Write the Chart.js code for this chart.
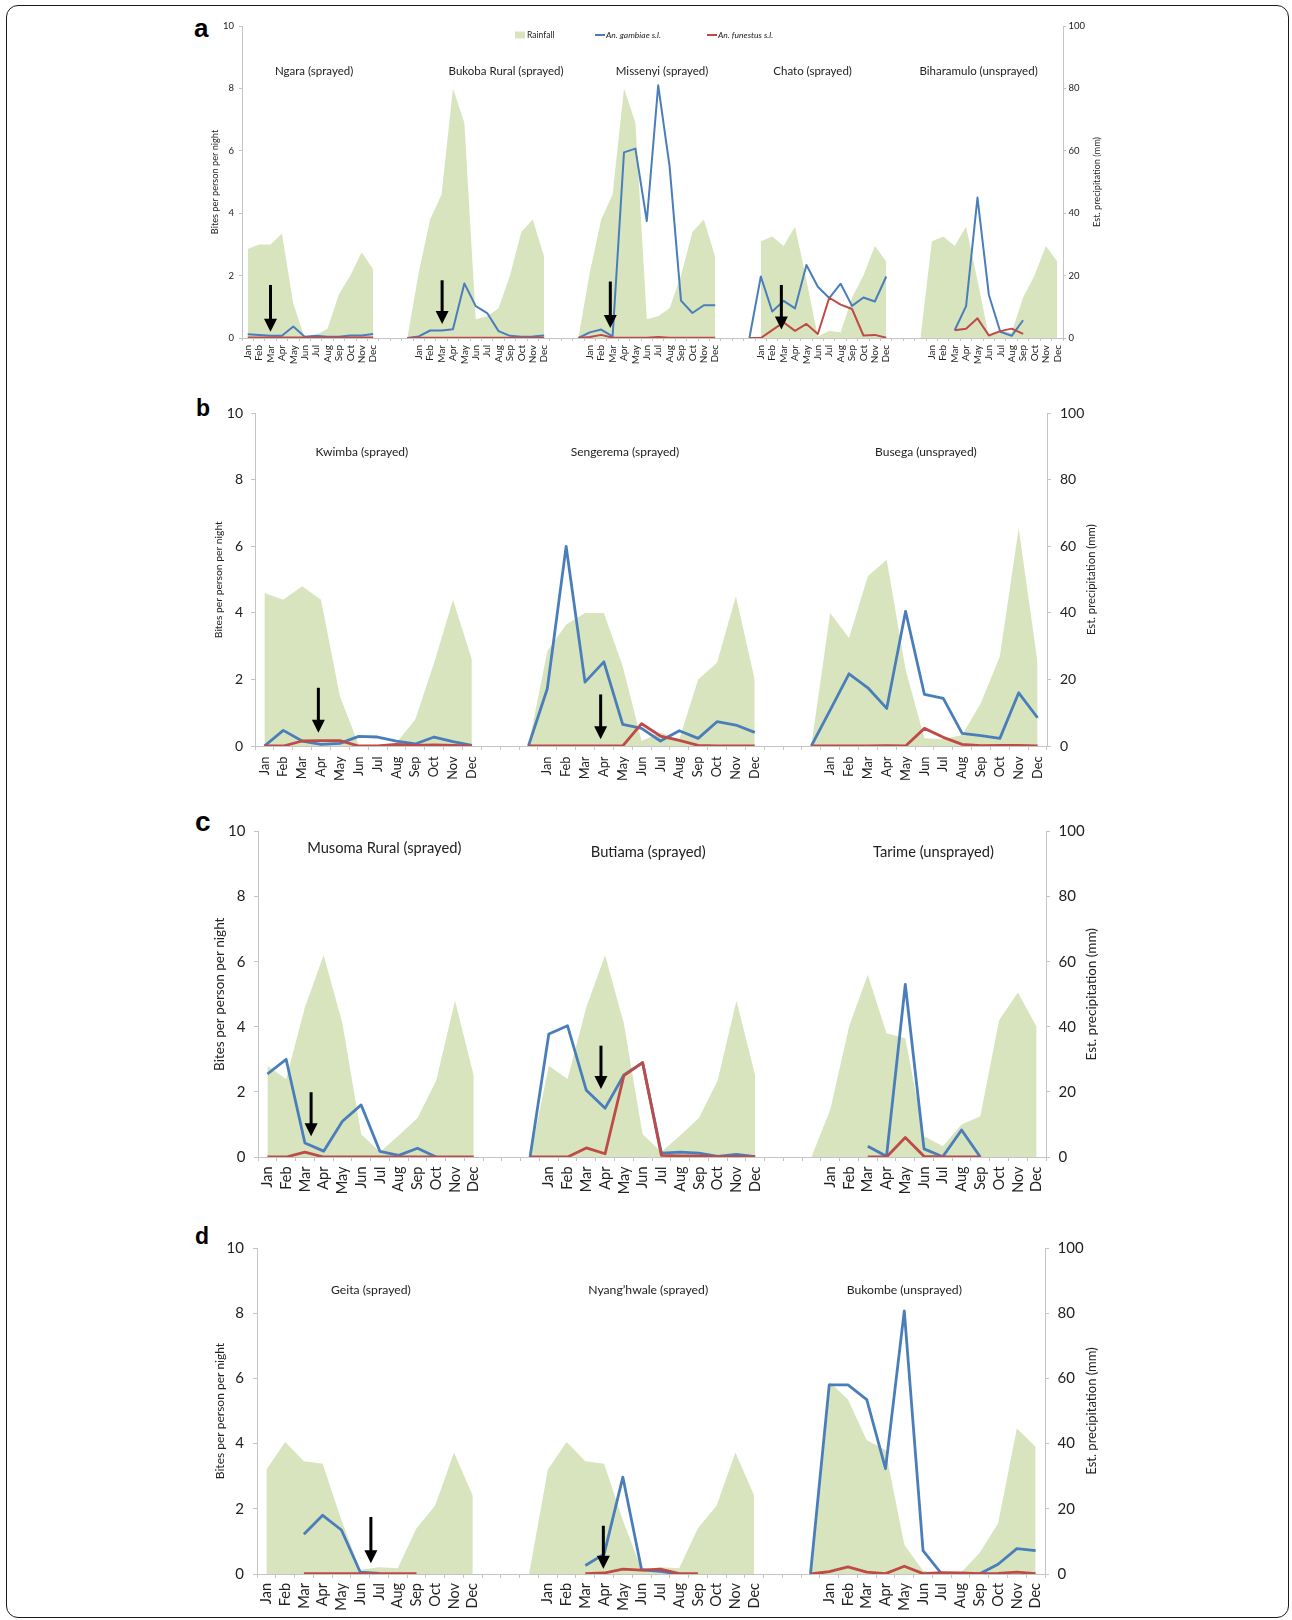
<!DOCTYPE html>
<html>
<head>
<meta charset="utf-8">
<script src="https://cdn.jsdelivr.net/npm/chart.js@4.4.1/dist/chart.umd.min.js"></script>
<style>
  body { margin: 0; background: #fff; width: 1292px; height: 1620px; position: relative; overflow: hidden; }
  .frame { position: absolute; left: 6px; top: 5px; width: 1281px; height: 1611px; border: 1.5px solid #1a1a1a; border-radius: 12px; }
  canvas { position: absolute; left: 0; }
  .letter { position: absolute; font-family: "Liberation Sans", Arial, sans-serif; font-weight: bold; line-height: 1; color: #000; }
</style>
</head>
<body>
<div class="frame"></div>
<div class="letter" style="left:194px;top:15px;font-size:26px">a</div>
<div class="letter" style="left:196px;top:397px;font-size:23px">b</div>
<div class="letter" style="left:195px;top:808px;font-size:28px">c</div>
<div class="letter" style="left:195px;top:1225px;font-size:23px">d</div>

<script>
var months = ['Jan', 'Feb', 'Mar', 'Apr', 'May', 'Jun', 'Jul', 'Aug', 'Sep', 'Oct', 'Nov', 'Dec'];

// every district row: [value in the empty slot just before Jan, Jan ... Dec]
// rainfall in mm (right axis), mosquitoes in bites per person per night (left axis)

// panel a
var districtsA = ['Ngara (sprayed)', 'Bukoba Rural (sprayed)', 'Missenyi (sprayed)', 'Chato (sprayed)', 'Biharamulo (unsprayed)'];
var rainA = [
  [null, 28.5, 30, 30, 33.5, 11, 0, 1, 3, 14, 20, 27.5, 22],
  [0, 21, 38, 46, 80, 69, 6, 7, 9.5, 20, 34, 38, 26],
  [0, 21, 38, 46, 80, 69, 6, 7, 9.5, 20, 34, 38, 26],
  [null, 31, 32.5, 29.5, 35.7, 18.5, 0.5, 2.3, 1.8, 13, 20, 29.5, 24.5],
  [0, 31, 32.5, 29.5, 35.7, 18.5, 0.5, 2.3, 1.8, 13, 20, 29.5, 24.5]
];
var gambA = [
  [null, 0.12, 0.1, 0.07, 0.07, 0.37, 0.04, 0.07, 0.04, 0.04, 0.08, 0.08, 0.13],
  [0, 0.05, 0.24, 0.24, 0.28, 1.75, 1.02, 0.8, 0.22, 0.07, 0.04, 0.05, 0.08],
  [0, 0.18, 0.27, 0.05, 5.95, 6.07, 3.75, 8.1, 5.5, 1.2, 0.8, 1.05, 1.05],
  [0, 1.97, 0.85, 1.19, 0.95, 2.34, 1.64, 1.28, 1.74, 1.03, 1.3, 1.17, 1.97],
  [null, null, null, 0.25, 1.02, 4.5, 1.38, 0.2, 0.07, 0.57, null, null, null]
];
var funA = [
  [null, 0.02, 0.02, 0.02, 0.02, 0.02, 0.02, 0.02, 0.02, 0.02, 0.02, 0.02, 0.02],
  [0, 0.01, 0.01, 0.01, 0.01, 0.01, 0.01, 0.01, 0.01, 0.01, 0.01, 0.01, 0.01],
  [0, 0.03, 0.1, 0.01, 0.01, 0.01, 0.01, 0.03, 0.01, 0.01, 0.01, 0.01, 0.01],
  [0, 0, 0.25, 0.5, 0.23, 0.45, 0.13, 1.29, 1.07, 0.93, 0.08, 0.1, 0.01],
  [null, null, null, 0.25, 0.3, 0.63, 0.08, 0.22, 0.3, 0.13, null, null, null]
];

// panel b
var districtsB = ['Kwimba (sprayed)', 'Sengerema (sprayed)', 'Busega (unsprayed)'];
var rainB = [
  [null, 46, 44, 48, 44, 15, 0.3, 0, 1, 8, 25, 44, 26],
  [0, 28.5, 36.5, 40, 40, 24, 1.5, 4, 2, 20, 25, 45, 20],
  [0, 40, 32.5, 51, 56, 23, 2.3, 2, 3.3, 13, 27, 65.5, 25]
];
var gambB = [
  [null, 0, 0.47, 0.15, 0.05, 0.08, 0.29, 0.27, 0.15, 0.06, 0.27, 0.13, 0.02],
  [0, 1.72, 6.0, 1.92, 2.53, 0.65, 0.53, 0.15, 0.46, 0.23, 0.73, 0.63, 0.41],
  [0, 1.08, 2.17, 1.75, 1.13, 4.05, 1.55, 1.43, 0.38, 0.31, 0.23, 1.6, 0.85]
];
var funB = [
  [null, 0, 0, 0.15, 0.16, 0.16, 0, 0, 0.05, 0.02, 0.03, 0.02, 0],
  [0, 0, 0, 0, 0, 0, 0.67, 0.3, 0.17, 0.02, 0, 0, 0],
  [0, 0, 0, 0, 0.01, 0, 0.53, 0.26, 0.05, 0.01, 0.02, 0.02, 0]
];

// panel c
var districtsC = ['Musoma Rural (sprayed)', 'Butiama (sprayed)', 'Tarime (unsprayed)'];
var rainC = [
  [null, 28, 24, 46, 62, 41, 7, 1.5, 6.6, 12, 23.5, 48, 25],
  [0, 28, 24, 46, 62, 41, 7, 1.5, 6.6, 12, 23.5, 48, 25],
  [0, 14.5, 40, 56, 38, 36.5, 6.4, 3.3, 10, 12.5, 42, 50.5, 40]
];
var gambC = [
  [null, 2.55, 3.0, 0.43, 0.18, 1.1, 1.6, 0.17, 0.05, 0.27, 0, null, null],
  [0, 3.78, 4.03, 2.05, 1.5, 2.52, 2.9, 0.12, 0.15, 0.12, 0.02, 0.08, 0.01],
  [null, null, null, 0.33, 0.02, 5.3, 0.25, 0.01, 0.83, 0, null, null, null]
];
var funC = [
  [null, 0, 0, 0.15, 0, 0, 0, 0, 0, 0, 0, 0, 0],
  [0, 0, 0, 0.28, 0.1, 2.5, 2.9, 0.05, 0.03, 0.03, 0.01, 0.01, 0],
  [null, null, null, 0, 0, 0.6, 0.02, 0, 0, 0, null, null, null]
];

// panel d
var districtsD = ['Geita (sprayed)', 'Nyang\u2019hwale (sprayed)', 'Bukombe (unsprayed)'];
var rainD = [
  [null, 32, 40.5, 34.6, 33.8, 16.5, 1.3, 2.1, 1.8, 14, 21, 37.3, 24],
  [0, 32, 40.5, 34.6, 33.8, 16.5, 1.3, 2.1, 1.8, 14, 21, 37.3, 24],
  [0, 59, 53.5, 41, 38, 9, 1, 0, 0.3, 6.4, 15.5, 44.6, 39]
];
var gambD = [
  [null, null, null, 1.22, 1.8, 1.35, 0.06, 0.02, null, null, null, null, null],
  [null, null, null, 0.26, 0.61, 2.97, 0.13, 0.08, 0, null, null, null, null],
  [0, 5.8, 5.8, 5.35, 3.23, 8.07, 0.72, 0, 0, 0, 0.3, 0.78, 0.72]
];
var funD = [
  [null, null, null, 0.01, 0.01, 0.01, 0.01, 0.01, 0.01, 0.01, null, null, null],
  [null, null, null, 0.01, 0.03, 0.15, 0.12, 0.15, 0.01, 0.01, null, null, null],
  [0, 0.07, 0.22, 0.06, 0.01, 0.24, 0.01, 0.04, 0.03, 0.01, 0.02, 0.06, 0.01]
];

var FONT = 'Lato, "Open Sans", sans-serif';
var GRAY = '#c4c4c4';
var INK = '#222';
var RIGHT_TITLE = 'Est. precipitation (mm)';

// spray arrows: [category position, top value, tip value]; name spots: [category position, value]
var panels = [
  { names: districtsA, rain: rainA, gamb: gambA, fun: funA,
    box: { l: 242, r: 1063, t: 26, b: 338 },
    arrows: [[2, 1.7, 0.2], [17.05, 1.85, 0.45], [31.8, 1.81, 0.32], [46.8, 1.7, 0.27]],
    spots: [[5.82, 8.56], [22.66, 8.56], [36.34, 8.56], [49.54, 8.56], [64.1, 8.56]],
    f: { yTick: 9.5, xTick: 10, yTitle: 9.2, rTitle: 9.2, name: 11.5 },
    lw: 2, tl: 3, yPad: 5, y2Pad: 2.5, xPad: 4, titleX: [215, 1096.7], legend: true },
  { names: districtsB, rain: rainB, gamb: gambB, fun: funB,
    box: { l: 255, r: 1047, t: 412, b: 746 },
    arrows: [[2.86, 1.75, 0.4], [17.83, 1.55, 0.2]],
    spots: [[5.17, 8.83], [19.12, 8.83], [35.08, 8.83]],
    f: { yTick: 14, xTick: 12.8, yTitle: 10.3, rTitle: 11.3, name: 12 },
    lw: 2.8, tl: 4, yPad: 8, y2Pad: 9, xPad: 6.5, titleX: [219, 1091.7] },
  { names: districtsC, rain: rainC, gamb: gambC, fun: funC,
    box: { l: 258, r: 1046, t: 830, b: 1157 },
    arrows: [[2.33, 1.99, 0.64], [17.78, 3.42, 2.09]],
    spots: [[6.23, 9.49], [20.3, 9.36], [35.5, 9.36]],
    f: { yTick: 15, xTick: 14.5, yTitle: 13.5, rTitle: 13.5, name: 14.7 },
    lw: 2.8, tl: 4, yPad: 8.5, y2Pad: 8.5, xPad: 5.5, titleX: [220, 1091.7] },
  { names: districtsD, rain: rainD, gamb: gambD, fun: funD,
    box: { l: 257, r: 1045, t: 1246, b: 1574 },
    arrows: [[5.57, 1.75, 0.33], [17.96, 1.48, 0.16]],
    spots: [[5.57, 8.72], [20.35, 8.72], [34.0, 8.72]],
    f: { yTick: 15, xTick: 14.5, yTitle: 12, rTitle: 13, name: 12.2 },
    lw: 2.8, tl: 4, yPad: 9, y2Pad: 8.5, xPad: 5, titleX: [220, 1091.7] }
];

function buildLabels(n) {
  var out = [];
  for (var g = 0; g < n; g++) {
    if (g > 0) out.push('', '', '');
    out = out.concat(months);
  }
  return out;
}

function buildSeries(rows) {
  var out = [];
  rows.forEach(function(row, g) {
    if (g > 0) out.push(null, null, row[0]);
    out = out.concat(row.slice(1));
  });
  return out;
}

// district names, spray arrows, right axis title (reads upwards) and the legend of panel a
function marks(p) {
  return {
    id: 'marks',
    afterDatasetsDraw: function(chart) {
      var ctx = chart.ctx, xs = chart.scales.x, ys = chart.scales.y, ca = chart.chartArea;
      ctx.save();
      ctx.fillStyle = INK;
      ctx.font = p.f.name + 'px ' + FONT;
      ctx.textAlign = 'center';
      ctx.textBaseline = 'middle';
      p.names.forEach(function(n, i) {
        ctx.fillText(n, xs.getPixelForValue(p.spots[i][0]), ys.getPixelForValue(p.spots[i][1]));
      });

      ctx.save();
      ctx.translate(p.titleX[1], (ca.top + ca.bottom) / 2);
      ctx.rotate(-Math.PI / 2);
      ctx.font = p.f.rTitle + 'px ' + FONT;
      ctx.fillText(RIGHT_TITLE, 0, 0);
      ctx.restore();

      ctx.fillStyle = '#000';
      ctx.strokeStyle = '#000';
      p.arrows.forEach(function(a) {
        var x = xs.getPixelForValue(a[0]);
        var y1 = ys.getPixelForValue(a[1]);
        var y2 = ys.getPixelForValue(a[2]);
        ctx.lineWidth = 3;
        ctx.beginPath();
        ctx.moveTo(x, y1);
        ctx.lineTo(x, y2 - 10);
        ctx.stroke();
        ctx.beginPath();
        ctx.moveTo(x - 6.5, y2 - 13);
        ctx.lineTo(x + 6.5, y2 - 13);
        ctx.lineTo(x, y2);
        ctx.closePath();
        ctx.fill();
      });

      if (p.legend) {
        var ds = chart.data.datasets;
        var y = ca.top + 9;
        ctx.textAlign = 'left';
        ctx.fillStyle = ds[0].backgroundColor;
        ctx.fillRect(ca.left + 273, y - 3.5, 10, 7);
        ctx.fillStyle = INK;
        ctx.font = '8.5px ' + FONT;
        ctx.fillText(ds[0].label, ca.left + 285, y);
        ctx.font = 'italic 8.5px ' + FONT;
        [[1, 353], [2, 465]].forEach(function(it) {
          ctx.strokeStyle = ds[it[0]].borderColor;
          ctx.lineWidth = 2;
          ctx.beginPath();
          ctx.moveTo(ca.left + it[1], y);
          ctx.lineTo(ca.left + it[1] + 10, y);
          ctx.stroke();
          ctx.fillText(ds[it[0]].label, ca.left + it[1] + 11, y);
        });
      }
      ctx.restore();
    }
  };
}

panels.forEach(function(p) {
  var topPad = 16, xH = 64;
  var cv = document.createElement('canvas');
  cv.width = 1292;
  cv.height = p.box.b - p.box.t + topPad + xH;
  cv.style.top = (p.box.t - topPad) + 'px';
  document.body.appendChild(cv);

  var lhL = p.f.yTitle * 1.2;

  new Chart(cv, {
    type: 'line',
    data: {
      labels: buildLabels(p.names.length),
      datasets: [
        { label: 'Rainfall', data: buildSeries(p.rain), yAxisID: 'y2', fill: 'origin',
          backgroundColor: '#d7e4bd', borderWidth: 0, borderColor: 'rgba(0,0,0,0)', pointRadius: 0, order: 3 },
        { label: 'An. gambiae s.l.', data: buildSeries(p.gamb), yAxisID: 'y', fill: false,
          borderColor: '#4a7ebb', borderWidth: p.lw, pointRadius: 0, order: 2 },
        { label: 'An. funestus s.l.', data: buildSeries(p.fun), yAxisID: 'y', fill: false,
          borderColor: '#be4b48', borderWidth: p.lw, pointRadius: 0, order: 1 }
      ]
    },
    options: {
      responsive: false,
      animation: false,
      events: [],
      layout: { padding: { top: topPad, left: 0, right: 0, bottom: 0 } },
      elements: { line: { tension: 0, borderJoinStyle: 'round' } },
      plugins: { legend: { display: false }, tooltip: { enabled: false } },
      scales: {
        x: {
          offset: true,
          grid: { offset: true, drawOnChartArea: false, drawTicks: true, tickLength: p.tl, color: GRAY },
          border: { color: GRAY },
          ticks: { autoSkip: false, minRotation: 90, maxRotation: 90, padding: p.xPad, color: INK,
                   font: { family: FONT, size: p.f.xTick } },
          afterFit: function(s) { s.height = xH; }
        },
        y: {
          position: 'left', min: 0, max: 10,
          grid: { drawOnChartArea: false, tickLength: p.tl, color: GRAY },
          border: { color: GRAY },
          ticks: { stepSize: 2, padding: p.yPad, color: INK, font: { family: FONT, size: p.f.yTick } },
          title: { display: true, text: 'Bites per person per night', color: INK,
                   font: { family: FONT, size: p.f.yTitle },
                   padding: { top: p.titleX[0] - lhL / 2, bottom: 0 } },
          afterFit: function(s) { s.width = p.box.l; }
        },
        y2: {
          position: 'right', min: 0, max: 100,
          grid: { drawOnChartArea: false, tickLength: p.tl, color: GRAY },
          border: { color: GRAY },
          ticks: { stepSize: 20, padding: p.y2Pad, color: INK, font: { family: FONT, size: p.f.yTick } },
          afterFit: function(s) { s.width = 1292 - p.box.r; }
        }
      }
    },
    plugins: [marks(p)]
  });
});
</script>
</body>
</html>
